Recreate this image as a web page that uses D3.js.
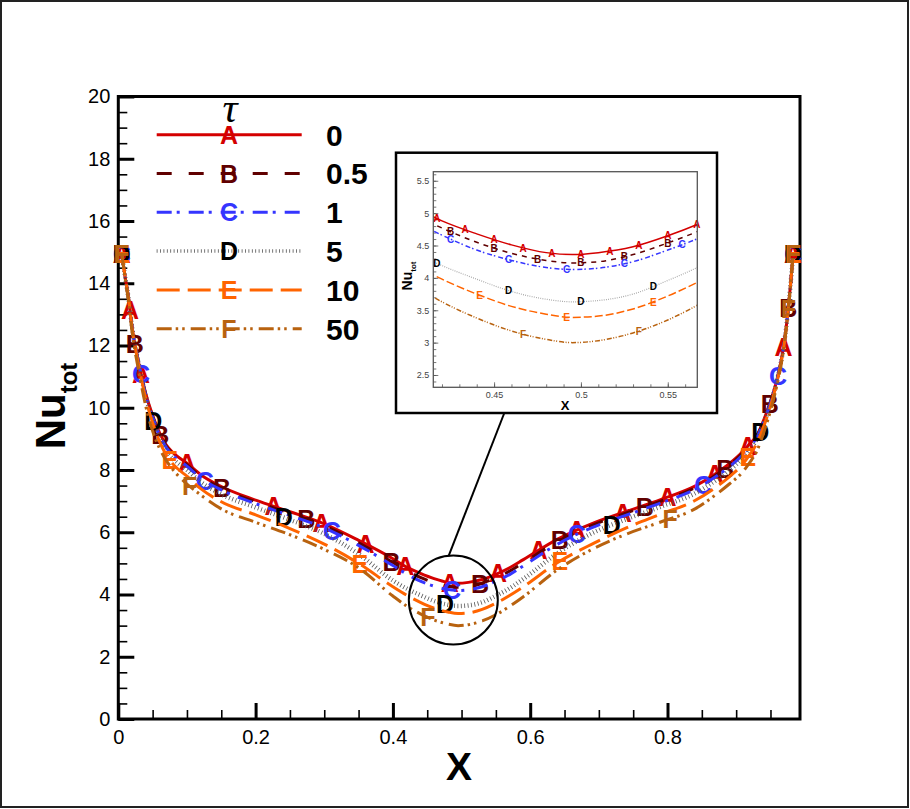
<!DOCTYPE html>
<html>
<head>
<meta charset="utf-8">
<script src="https://cdn.jsdelivr.net/npm/d3@7"></script>
<style>
body { margin: 0; background: #fff; }
svg { display: block; font-family: "Liberation Sans", Arial, Helvetica, sans-serif; }
</style>
</head>
<body>
<svg id="chart" width="910" height="809"></svg>
<script>
// x positions shared by all six curves
var xs = [0.005, 0.01, 0.015, 0.02, 0.03, 0.04, 0.05, 0.06, 0.07, 0.08,
          0.1, 0.12, 0.15, 0.2, 0.25, 0.3, 0.35, 0.4,
          0.42, 0.44, 0.46, 0.48, 0.495, 0.51, 0.53, 0.55, 0.57,
          0.59, 0.64, 0.69, 0.74, 0.79, 0.84, 0.87, 0.89, 0.91, 0.92, 0.93, 0.94, 0.95, 0.96, 0.965, 0.97, 0.975, 0.979, 0.983];

// Nu_tot for each tau
var nuTau0 = [14.95, 14.2, 13.5, 12.6, 11.4, 10.45, 9.75, 9.2, 8.8, 8.55,
              8.22, 7.85, 7.47, 7.03, 6.66, 6.27, 5.74, 5.15,
              4.88, 4.68, 4.51, 4.39, 4.36, 4.39, 4.48, 4.65, 4.86,
              5.12, 5.78, 6.28, 6.67, 7.05, 7.48, 7.88, 8.2, 8.6, 8.85, 9.1, 9.6, 10.2, 10.95, 11.45, 12.1, 13.0, 13.9, 14.95];
var nuTau05 = [14.95, 14.2, 13.5, 12.6, 11.4, 10.43, 9.72, 9.16, 8.76, 8.5,
               8.17, 7.8, 7.42, 6.98, 6.61, 6.21, 5.66, 5.03,
               4.77, 4.55, 4.38, 4.27, 4.23, 4.25, 4.36, 4.54, 4.75,
               5.02, 5.7, 6.22, 6.62, 7.0, 7.43, 7.83, 8.15, 8.55, 8.8, 9.07, 9.57, 10.18, 10.95, 11.45, 12.1, 13.0, 13.9, 14.95];
var nuTau1 = [14.95, 14.2, 13.5, 12.6, 11.4, 10.4, 9.7, 9.13, 8.72, 8.46,
              8.12, 7.74, 7.36, 6.92, 6.54, 6.14, 5.58, 4.93,
              4.66, 4.43, 4.27, 4.16, 4.13, 4.15, 4.25, 4.43, 4.64,
              4.92, 5.62, 6.15, 6.55, 6.94, 7.38, 7.78, 8.1, 8.5, 8.76, 9.04, 9.55, 10.16, 10.94, 11.44, 12.1, 13.0, 13.9, 14.95];
var nuTau5 = [14.95, 14.2, 13.5, 12.6, 11.38, 10.36, 9.64, 9.06, 8.64, 8.36,
              8.0, 7.62, 7.22, 6.8, 6.4, 5.95, 5.3, 4.45,
              4.19, 3.98, 3.79, 3.67, 3.63, 3.65, 3.75, 3.96, 4.2,
              4.5, 5.33, 5.97, 6.42, 6.82, 7.25, 7.66, 7.98, 8.4, 8.66, 8.98, 9.5, 10.12, 10.92, 11.43, 12.08, 13.0, 13.9, 14.95];
var nuTau10 = [14.95, 14.2, 13.5, 12.58, 11.33, 10.28, 9.52, 8.92, 8.48, 8.18,
               7.8, 7.4, 6.98, 6.56, 6.12, 5.62, 5.0, 4.25,
               3.98, 3.75, 3.56, 3.44, 3.39, 3.41, 3.52, 3.72, 3.97,
               4.25, 5.03, 5.62, 6.14, 6.58, 7.02, 7.44, 7.78, 8.2, 8.5, 8.85, 9.4, 10.05, 10.88, 11.4, 12.05, 12.98, 13.9, 14.95];
var nuTau50 = [14.95, 14.15, 13.4, 12.45, 11.15, 10.05, 9.25, 8.7, 8.3, 8.0,
               7.55, 7.2, 6.75, 6.32, 5.92, 5.45, 4.86, 3.95,
               3.63, 3.38, 3.18, 3.05, 3.0, 3.03, 3.15, 3.35, 3.62,
               3.93, 4.8, 5.45, 5.94, 6.33, 6.75, 7.2, 7.55, 7.95, 8.25, 8.6, 9.2, 9.9, 10.78, 11.32, 12.0, 12.95, 13.88, 14.95];

var tauLabels = ["0", "0.5", "1", "5", "10", "50"];
var symbols = ["A", "B", "C", "D", "E", "F"];

// where the letter symbols sit along each curve (main plot)
var marks0 = [0.005, 0.017, 0.033, 0.1, 0.226, 0.296, 0.36, 0.418, 0.483, 0.553, 0.612, 0.668, 0.735, 0.8, 0.869, 0.917, 0.969, 0.983];
var marks05 = [0.005, 0.024, 0.061, 0.151, 0.274, 0.398, 0.527, 0.643, 0.767, 0.884, 0.949, 0.976, 0.983];
var marks1 = [0.005, 0.033, 0.126, 0.311, 0.486, 0.668, 0.852, 0.961, 0.983];
var marks5 = [0.005, 0.051, 0.241, 0.476, 0.719, 0.935, 0.983];
var marks10 = [0.005, 0.075, 0.352, 0.643, 0.917, 0.983];
var marks50 = [0.005, 0.104, 0.451, 0.804, 0.976, 0.983];

// symbols in the zoomed inset
var insetMarks0 = [0.417, 0.4333, 0.45, 0.4667, 0.4833, 0.5, 0.5167, 0.5333, 0.55, 0.5667];
var insetMarks05 = [0.425, 0.45, 0.475, 0.5, 0.525, 0.55];
var insetMarks1 = [0.425, 0.4583, 0.4917, 0.525, 0.5583];
var insetMarks5 = [0.417, 0.4583, 0.5, 0.5417];
var insetMarks10 = [0.4417, 0.4917, 0.5417];
var insetMarks50 = [0.4667, 0.5333];

var xTicks = [0, 0.2, 0.4, 0.6, 0.8];
var yTicks = [0, 2, 4, 6, 8, 10, 12, 14, 16, 18, 20];
var insetXTicks = [0.45, 0.5, 0.55];
var insetYTicks = [2.5, 3, 3.5, 4, 4.5, 5, 5.5];

// zoom circle centre (data units)
var zoomCentre = [0.488, 3.82];

var series = [nuTau0, nuTau05, nuTau1, nuTau5, nuTau10, nuTau50];
var markSets = [marks0, marks05, marks1, marks5, marks10, marks50];
var insetMarkSets = [insetMarks0, insetMarks05, insetMarks1, insetMarks5, insetMarks10, insetMarks50];

var styles = [
	{ color: "#d40000", text: "#d40000", dash: null, width: 3, legendWidth: 3, insetDash: null, insetWidth: 1.5 },
	{ color: "#600000", text: "#600000", dash: "15,17", width: 3, legendWidth: 3, insetDash: "5,5", insetWidth: 1.5 },
	{ color: "#3535ff", text: "#3535ff", dash: "15,5,3,9", width: 3, legendWidth: 3, insetDash: "5,2,1.5,3", insetWidth: 1.5 },
	{ color: "#555", text: "#000", dash: "0.8,2.6", width: 4.5, legendWidth: 3.5, insetDash: "0.8,1.4", insetWidth: 1.2, insetColor: "#999" },
	{ color: "#ff6400", text: "#ff6400", dash: "23,8", width: 3, legendWidth: 3, insetDash: "8,3", insetWidth: 1.5 },
	{ color: "#b8620f", text: "#b8620f", dash: "15,4,2.5,4,2.5,6", width: 3, legendWidth: 3, insetDash: "5,1.5,1,1.5,1,2", insetWidth: 1.5 }
];

var svg = d3.select("#chart");

var x = d3.scaleLinear().domain([0, 0.993]).range([118.3, 800]);
var y = d3.scaleLinear().domain([0, 20]).range([719, 96.5]);

// find the point on a drawn path at a given screen x
function pointAtX(node, px) {
	var lo = 0, hi = node.getTotalLength();
	for (var i = 0; i < 32; i++) {
		var mid = (lo + hi) / 2;
		if (node.getPointAtLength(mid).x < px) lo = mid; else hi = mid;
	}
	return node.getPointAtLength((lo + hi) / 2);
}

// outer frame of the picture
svg.append("rect")
	.attr("x", 1).attr("y", 1).attr("width", 907).attr("height", 806)
	.attr("fill", "none").attr("stroke", "#222").attr("stroke-width", 2);

// axes with inward ticks
var xMinor = d3.axisBottom(x).tickValues(d3.range(0, 0.99, 0.05)).tickSizeInner(-9).tickSizeOuter(0).tickFormat("");
var xMajor = d3.axisBottom(x).tickValues(xTicks).tickSizeInner(-16).tickSizeOuter(0).tickPadding(11).tickFormat(d3.format("~g"));
var yMinor = d3.axisLeft(y).tickValues(d3.range(0, 20.01, 0.5)).tickSizeInner(-9).tickSizeOuter(0).tickFormat("");
var yMajor = d3.axisLeft(y).tickValues(yTicks).tickSizeInner(-16).tickSizeOuter(0).tickPadding(8);

function styleAxis(g, w) {
	g.select(".domain").remove();
	g.selectAll(".tick line").attr("stroke", "#000").attr("stroke-width", w);
	g.selectAll(".tick text").attr("fill", "#000").attr("font-size", 20)
		.attr("font-family", "'Liberation Sans', Arial, sans-serif");
}

svg.append("g").attr("transform", "translate(0,719)").call(xMinor).call(styleAxis, 1.6);
svg.append("g").attr("transform", "translate(0,719)").call(xMajor).call(styleAxis, 3);
svg.append("g").attr("transform", "translate(118.3,0)").call(yMinor).call(styleAxis, 1.6);
svg.append("g").attr("transform", "translate(118.3,0)").call(yMajor).call(styleAxis, 3);

svg.append("rect")
	.attr("x", x(0)).attr("y", y(20))
	.attr("width", x(0.993) - x(0)).attr("height", y(0) - y(20))
	.attr("fill", "none").attr("stroke", "#000").attr("stroke-width", 3);

svg.append("text")
	.attr("x", 459).attr("y", 780)
	.attr("text-anchor", "middle").attr("font-size", 39).attr("font-weight", "bold")
	.text("X");

var yTitle = svg.append("text")
	.attr("transform", "translate(65,406) rotate(-90)")
	.attr("text-anchor", "middle").attr("font-weight", "bold");
yTitle.append("tspan").attr("font-size", 42).text("Nu");
yTitle.append("tspan").attr("font-size", 24).attr("dy", 12).text("tot");

// curves and their letter symbols
var line = d3.line()
	.x(function(d) { return x(d[0]); })
	.y(function(d) { return y(d[1]); })
	.curve(d3.curveMonotoneX);

var curves = svg.append("g");
series.forEach(function(vals, i) {
	var st = styles[i];
	var pts = xs.map(function(v, k) { return [v, vals[k]]; });
	var path = curves.append("path")
		.attr("d", line(pts))
		.attr("fill", "none")
		.attr("stroke", st.color)
		.attr("stroke-width", st.width)
		.attr("stroke-dasharray", st.dash);
	markSets[i].forEach(function(mx) {
		var p = pointAtX(path.node(), x(mx));
		curves.append("text")
			.attr("x", p.x).attr("y", p.y).attr("dy", "0.36em")
			.attr("text-anchor", "middle")
			.attr("font-size", 25).attr("font-weight", "bold")
			.attr("fill", st.text)
			.text(symbols[i]);
	});
});

// legend
var legend = svg.append("g");
legend.append("text")
	.attr("x", 230).attr("y", 122)
	.attr("text-anchor", "middle")
	.attr("font-family", "'Liberation Serif', 'DejaVu Serif', serif")
	.attr("font-style", "italic").attr("font-size", 42)
	.text("τ");

tauLabels.forEach(function(lab, i) {
	var st = styles[i], ly = 134.7 + i * 38.8;
	legend.append("line")
		.attr("x1", 156.7).attr("x2", 301.7).attr("y1", ly).attr("y2", ly)
		.attr("stroke", st.color).attr("stroke-width", st.legendWidth)
		.attr("stroke-dasharray", st.dash);
	legend.append("text")
		.attr("x", 229).attr("y", ly).attr("dy", "0.36em")
		.attr("text-anchor", "middle").attr("font-size", 25).attr("font-weight", "bold")
		.attr("fill", st.text)
		.text(symbols[i]);
	legend.append("text")
		.attr("x", 326).attr("y", ly).attr("dy", "0.36em")
		.attr("font-size", 30).attr("font-weight", "bold")
		.text(lab);
});

// zoom circle and pointer line
var cx = x(zoomCentre[0]), cy = y(zoomCentre[1]), cr = 44.5;
var ang = -6 * Math.PI / 180;
svg.append("line")
	.attr("x1", 504.3).attr("y1", 413)
	.attr("x2", cx + cr * Math.sin(ang)).attr("y2", cy - cr * Math.cos(ang))
	.attr("stroke", "#000").attr("stroke-width", 2);
svg.append("circle")
	.attr("cx", cx).attr("cy", cy).attr("r", cr)
	.attr("fill", "none").attr("stroke", "#000").attr("stroke-width", 2);

// inset
var ix = d3.scaleLinear().domain([0.415, 0.567]).range([433.3, 697.3]);
var iy = d3.scaleLinear().domain([2.31, 5.64]).range([387.3, 171.7]);

var inset = svg.append("g");
inset.append("rect")
	.attr("x", 396).attr("y", 152.7).attr("width", 321).attr("height", 260.3)
	.attr("fill", "#fff").attr("stroke", "#000").attr("stroke-width", 2.5);

svg.append("defs").append("clipPath").attr("id", "insetClip")
	.append("rect")
	.attr("x", ix(0.415)).attr("y", iy(5.64))
	.attr("width", ix(0.567) - ix(0.415)).attr("height", iy(2.31) - iy(5.64));

var ixMinor = d3.axisBottom(ix).tickValues(d3.range(0.42, 0.567, 0.01)).tickSizeInner(-3).tickSizeOuter(0).tickFormat("");
var ixMajor = d3.axisBottom(ix).tickValues(insetXTicks).tickSizeInner(-5).tickSizeOuter(0).tickPadding(4).tickFormat(d3.format("~g"));
var iyMinor = d3.axisLeft(iy).tickValues(d3.range(2.4, 5.64, 0.1)).tickSizeInner(-3).tickSizeOuter(0).tickFormat("");
var iyMajor = d3.axisLeft(iy).tickValues(insetYTicks).tickSizeInner(-5).tickSizeOuter(0).tickPadding(4).tickFormat(d3.format("~g"));

function styleInsetAxis(g) {
	g.select(".domain").remove();
	g.selectAll(".tick line").attr("stroke", "#555").attr("stroke-width", 0.8);
	g.selectAll(".tick text").attr("fill", "#444").attr("font-size", 9)
		.attr("font-family", "'Liberation Sans', Arial, sans-serif");
}
inset.append("g").attr("transform", "translate(0," + iy(2.31) + ")").call(ixMinor).call(styleInsetAxis);
inset.append("g").attr("transform", "translate(0," + iy(2.31) + ")").call(ixMajor).call(styleInsetAxis);
inset.append("g").attr("transform", "translate(" + ix(0.415) + ",0)").call(iyMinor).call(styleInsetAxis);
inset.append("g").attr("transform", "translate(" + ix(0.415) + ",0)").call(iyMajor).call(styleInsetAxis);

var insetLine = d3.line()
	.x(function(d) { return ix(d[0]); })
	.y(function(d) { return iy(d[1]); })
	.curve(d3.curveMonotoneX);

var insetCurves = inset.append("g");
series.forEach(function(vals, i) {
	var st = styles[i];
	var pts = xs.map(function(v, k) { return [v, vals[k]]; });
	var path = insetCurves.append("path")
		.attr("d", insetLine(pts))
		.attr("clip-path", "url(#insetClip)")
		.attr("fill", "none")
		.attr("stroke", st.insetColor || st.color)
		.attr("stroke-width", st.insetWidth)
		.attr("stroke-dasharray", st.insetDash);
	insetMarkSets[i].forEach(function(mx) {
		var p = pointAtX(path.node(), ix(mx));
		insetCurves.append("text")
			.attr("x", p.x).attr("y", p.y).attr("dy", "0.36em")
			.attr("text-anchor", "middle")
			.attr("font-size", 10).attr("font-weight", "bold")
			.attr("fill", st.text)
			.text(symbols[i]);
	});
});

inset.append("rect")
	.attr("x", ix(0.415)).attr("y", iy(5.64))
	.attr("width", ix(0.567) - ix(0.415)).attr("height", iy(2.31) - iy(5.64))
	.attr("fill", "none").attr("stroke", "#555").attr("stroke-width", 1.3);

inset.append("text")
	.attr("x", 565).attr("y", 410)
	.attr("text-anchor", "middle").attr("font-size", 13).attr("font-weight", "bold")
	.text("X");

var iyTitle = inset.append("text")
	.attr("transform", "translate(412,276) rotate(-90)")
	.attr("text-anchor", "middle").attr("font-weight", "bold");
iyTitle.append("tspan").attr("font-size", 14).text("Nu");
iyTitle.append("tspan").attr("font-size", 8).attr("dy", 4).text("tot");
</script>
</body>
</html>
